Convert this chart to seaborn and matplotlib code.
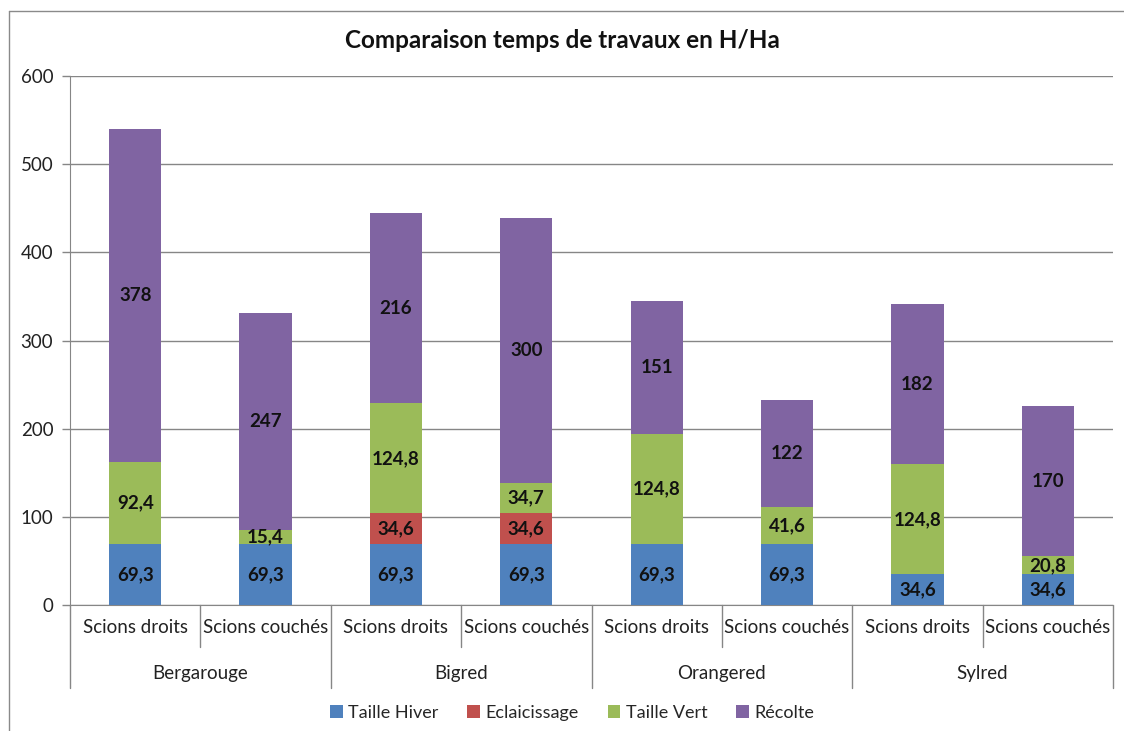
import numpy as np
import pandas as pd
import matplotlib.pyplot as plt
import matplotlib.transforms as mtransforms
from matplotlib.patches import Patch
import seaborn as sns

# data (H/Ha)
varieties = ['Bergarouge', 'Bigred', 'Orangered', 'Sylred']
modes = ['Scions droits', 'Scions couchés']
series_names = ['Taille Hiver', 'Eclaicissage', 'Taille Vert', 'Récolte']
taille_hiver = [69.3, 69.3, 69.3, 69.3, 69.3, 69.3, 34.6, 34.6]
eclaicissage = [0, 0, 34.6, 34.6, 0, 0, 0, 0]
taille_vert = [92.4, 15.4, 124.8, 34.7, 124.8, 41.6, 124.8, 20.8]
recolte = [378, 247, 216, 300, 151, 122, 182, 170]
series_colors = ['#4F81BD', '#C0504D', '#9BBB59', '#8064A2']

sns.set_style('white')
plt.rcParams['font.family'] = ['Lato', 'DejaVu Sans']

labels = [f'{v}|{m}' for v in varieties for m in modes]
layers = np.array([taille_hiver, eclaicissage, taille_vert, recolte])
cum = np.cumsum(layers, axis=0)
df = pd.DataFrame({'cat': labels})
for i, name in enumerate(series_names):
    df[name] = cum[i]

fig = plt.figure(figsize=(11.24, 7.31), dpi=100)
ax = fig.add_axes([70 / 1124, 1 - 605 / 731, (1113 - 70) / 1124, (605 - 76) / 731])

# stacked bars: draw cumulative totals from the top layer down
for i in range(3, -1, -1):
    sns.barplot(data=df, x='cat', y=series_names[i], color=series_colors[i],
                width=0.4, saturation=1, ax=ax, zorder=3, linewidth=0)

# data labels in the middle of each segment
for j in range(len(labels)):
    for i in range(4):
        v = layers[i, j]
        if v == 0:
            continue
        mid = cum[i, j] - v / 2
        txt = f'{v:g}'.replace('.', ',')
        ax.text(j, mid, txt, ha='center', va='center', fontsize=13.5,
                fontweight='bold', color='#111111', zorder=5)

ax.set_ylim(0, 600)
ax.set_xlim(-0.5, len(labels) - 0.5)
ax.set_yticks(range(0, 601, 100))
ax.tick_params(axis='y', labelsize=13.5, length=6, width=1, color='#868686',
               pad=6, left=True, labelcolor='#222222')
ax.yaxis.grid(True, color='#868686', linewidth=1)
ax.set_axisbelow(True)
for s in ['top', 'right']:
    ax.spines[s].set_visible(False)
ax.spines['left'].set_color('#868686')
ax.spines['bottom'].set_color('#868686')
ax.set_xlabel('')
ax.set_ylabel('')
ax.set_xticks(range(len(labels)))
ax.set_xticklabels([l.split('|')[1] for l in labels], fontsize=13.5,
                   color='#222222')
ax.tick_params(axis='x', length=0, pad=10)

# hierarchical axis: separators and variety labels
trans = mtransforms.blended_transform_factory(ax.transData, ax.transAxes)
h = 605 - 76
short = -42 / h
long_ = -83 / h
for k in range(len(labels) + 1):
    x = k - 0.5
    y_end = long_ if k % 2 == 0 else short
    ax.plot([x, x], [0, y_end], transform=trans, color='#868686',
            linewidth=1, clip_on=False)
for g, name in enumerate(varieties):
    ax.text(2 * g + 0.5, -69 / h, name, transform=trans, ha='center',
            va='center', fontsize=13.5, color='#222222')

fig.text(0.5, 1 - 40 / 731, 'Comparaison temps de travaux en H/Ha',
         ha='center', va='center', fontsize=17.5, fontweight='bold',
         color='#111111')

handles = [Patch(facecolor=c, edgecolor='none') for c in series_colors]
fig.legend(handles, series_names, loc='center', ncol=4,
           bbox_to_anchor=(0.509, 1 - 713 / 731), frameon=False,
           fontsize=13, handlelength=0.7, handleheight=0.7,
           handletextpad=0.3, columnspacing=1.6)

# chart border (top and left visible in the reference)
fig.add_artist(plt.Line2D([9 / 1124, 1], [1 - 11 / 731, 1 - 11 / 731],
                          color='#8a8a8a', linewidth=1))
fig.add_artist(plt.Line2D([9 / 1124, 9 / 1124], [0, 1 - 11 / 731],
                          color='#8a8a8a', linewidth=1))

fig.savefig('out.png', dpi=100)
